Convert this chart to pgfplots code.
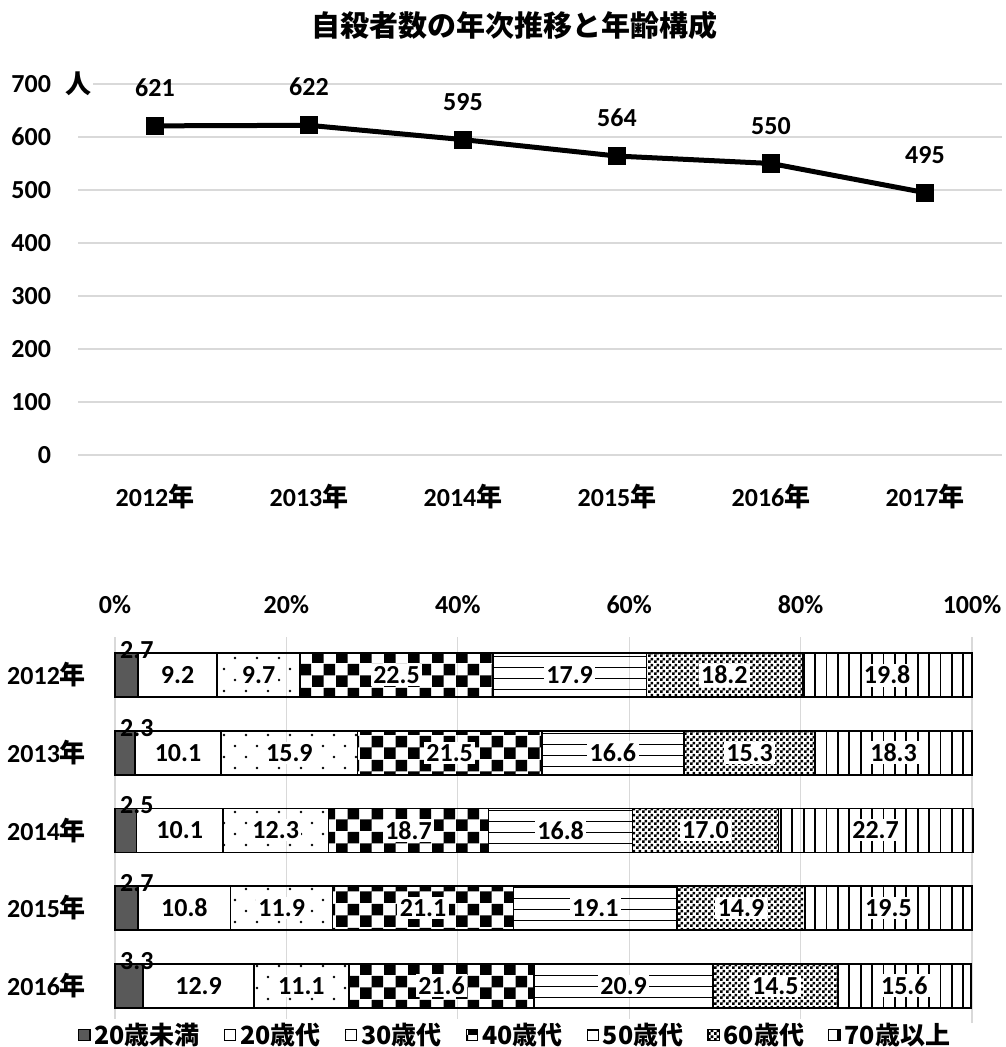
\documentclass[border=0pt]{standalone}
\usepackage{pgfplots}
\pgfplotsset{compat=1.18}
\usepackage{pgfplotstable}
\usetikzlibrary{patterns}
\usepackage{fontspec}
\setmainfont{Carlito}
\newfontfamily\cjkfont{Noto Sans CJK JP}
\newcommand\cj[1]{{\cjkfont #1}}
\newcommand\lab{\fontsize{13}{15}\selectfont\bfseries}
\newcommand\leg{\fontsize{12.5}{14}\selectfont\bfseries\cjkfont}

\pgfdeclarepatternformonly{bigchecker}{\pgfpointorigin}{\pgfpoint{12pt}{12pt}}{\pgfpoint{12pt}{12pt}}{%
  \pgfpathrectangle{\pgfpointorigin}{\pgfpoint{6pt}{6pt}}%
  \pgfpathrectangle{\pgfpoint{6pt}{6pt}}{\pgfpoint{6pt}{6pt}}%
  \pgfusepath{fill}}
\pgfdeclarepatternformonly{fchecker}{\pgfpointorigin}{\pgfpoint{3pt}{3pt}}{\pgfpoint{3pt}{3pt}}{%
  \pgfpathrectangle{\pgfpointorigin}{\pgfpoint{1.5pt}{1.5pt}}%
  \pgfpathrectangle{\pgfpoint{1.5pt}{1.5pt}}{\pgfpoint{1.5pt}{1.5pt}}%
  \pgfusepath{fill}}
\pgfdeclarepatternformonly{sdots}{\pgfpoint{-1pt}{-1pt}}{\pgfpoint{12pt}{12pt}}{\pgfpoint{11pt}{11pt}}{%
  \pgfpathcircle{\pgfpoint{2pt}{2pt}}{0.7pt}%
  \pgfpathcircle{\pgfpoint{7.5pt}{7.5pt}}{0.7pt}%
  \pgfusepath{fill}}
\pgfdeclarepatternformonly{hlinesb}{\pgfpoint{-1pt}{-1pt}}{\pgfpoint{6.5pt}{6.5pt}}{\pgfpoint{5.5pt}{5.5pt}}{%
  \pgfsetlinewidth{0.9pt}%
  \pgfpathmoveto{\pgfpoint{-0.1pt}{2.75pt}}\pgfpathlineto{\pgfpoint{5.6pt}{2.75pt}}%
  \pgfusepath{stroke}}
\pgfdeclarepatternformonly{vlinesb}{\pgfpoint{-1pt}{-1pt}}{\pgfpoint{6.7pt}{6.7pt}}{\pgfpoint{5.7pt}{5.7pt}}{%
  \pgfsetlinewidth{0.9pt}%
  \pgfpathmoveto{\pgfpoint{2.85pt}{-0.1pt}}\pgfpathlineto{\pgfpoint{2.85pt}{5.8pt}}%
  \pgfusepath{stroke}}

\pgfplotstableread{
y a b c d e f g
4 2.7 9.2 9.7 22.5 17.9 18.2 19.8
3 2.3 10.1 15.9 21.5 16.6 15.3 18.3
2 2.5 10.1 12.3 18.7 16.8 17.0 22.7
1 2.7 10.8 11.9 21.1 19.1 14.9 19.5
0 3.3 12.9 11.1 21.6 20.9 14.5 15.6
}\agedata

\pgfplotsset{
  seg/.style={
    point meta={\thisrow{#1}},
    nodes near coords={\pgfmathprintnumber[fixed,fixed zerofill,precision=1]{\pgfplotspointmeta}},
    every node near coord/.append style={font=\lab, fill=white, inner sep=1.2pt, anchor=center},
  },
}

\begin{document}
\begin{tikzpicture}
\path[use as bounding box] (0,0) rectangle (502.5pt,523.5pt);
\node[font=\fontsize{14.5}{16}\selectfont\bfseries\cjkfont] at (257pt,511pt) {自殺者数の年次推移と年齢構成};

\begin{axis}[at={(39pt,296pt)}, anchor=south west, scale only axis,
  width=462pt, height=185.5pt,
  xmin=-0.5, xmax=5.5, ymin=0, ymax=700,
  ytick={0,100,...,700}, xtick={0,...,5},
  xticklabels={2012\cj{年},2013\cj{年},2014\cj{年},2015\cj{年},2016\cj{年},2017\cj{年}},
  axis line style={draw=none}, major tick length=0pt,
  ymajorgrids, grid style={draw=black!15, line width=0.6pt},
  tick label style={font=\lab},
  /pgf/number format/assume math mode=true,
  yticklabel style={xshift=-10pt},
  xticklabel style={yshift=-11pt},
  clip=false]
\addplot[black, line width=2.5pt, mark=square*, mark size=4.3pt, mark options={solid, line width=0.5pt},
  nodes near coords, nodes near coords style={font=\lab, yshift=11pt}]
  coordinates {(0,621)(1,622)(2,595)(3,564)(4,550)(5,495)};
\node[fill=white, font=\lab, inner sep=1pt] at (rel axis cs:0,1) {\cj{人}};
\end{axis}

\begin{axis}[at={(57.5pt,12pt)}, anchor=south west, scale only axis,
  width=428.5pt, height=193pt,
  xbar stacked, bar width=22pt,
  xmin=0, xmax=100, ymin=-0.48, ymax=4.49,
  ytick={0,...,4},
  yticklabels={2016\cj{年},2015\cj{年},2014\cj{年},2013\cj{年},2012\cj{年}},
  xtick={0,20,...,100},
  xticklabel={\pgfmathprintnumber{\tick}\%},
  xticklabel pos=upper,
  axis line style={draw=none}, major tick length=0pt,
  xmajorgrids, grid style={draw=black!15, line width=0.6pt},
  tick label style={font=\lab},
  /pgf/number format/assume math mode=true,
  yticklabel style={xshift=-11pt},
  xticklabel style={yshift=8pt},
  clip=false,
  every axis plot post/.append style={legend image code/.code={\draw[##1, line width=0.6pt] (0pt,-2.8pt) rectangle (5.6pt,2.8pt);}},
  legend style={at={(axis description cs:0.468,-0.031)}, anchor=center, draw=none, legend columns=7,
    font=\leg, inner sep=0pt, /tikz/every even column/.append style={column sep=10pt},
    /tikz/every odd column/.append style={column sep=0pt}},
]
\addplot[draw=black, line width=0.8pt, fill=black!65,
  visualization depends on={\thisrow{a}\as\w},
  point meta={\thisrow{a}},
  nodes near coords={\pgfmathprintnumber[fixed,fixed zerofill,precision=1]{\pgfplotspointmeta}},
  every node near coord/.append style={font=\lab, inner sep=1.2pt, anchor=west,
    shift={(axis direction cs:-\w/2,0)}, xshift=1pt, yshift=12.5pt}]
  table[x=a, y=y] \agedata;
\addlegendentry{20歳未満}
\addplot[draw=black, line width=0.8pt, fill=white, seg=b] table[x=b, y=y] \agedata;
\addlegendentry{20歳代}
\addplot[draw=black, line width=0.8pt, pattern=sdots, seg=c] table[x=c, y=y] \agedata;
\addlegendentry{30歳代}
\addplot[draw=black, line width=0.8pt, pattern=bigchecker, seg=d] table[x=d, y=y] \agedata;
\addlegendentry{40歳代}
\addplot[draw=black, line width=0.8pt, pattern=hlinesb, seg=e] table[x=e, y=y] \agedata;
\addlegendentry{50歳代}
\addplot[draw=black, line width=0.8pt, pattern=fchecker, seg=f] table[x=f, y=y] \agedata;
\addlegendentry{60歳代}
\addplot[draw=black, line width=0.8pt, pattern=vlinesb, seg=g] table[x=g, y=y] \agedata;
\addlegendentry{70歳以上}
\end{axis}
\end{tikzpicture}
\end{document}
